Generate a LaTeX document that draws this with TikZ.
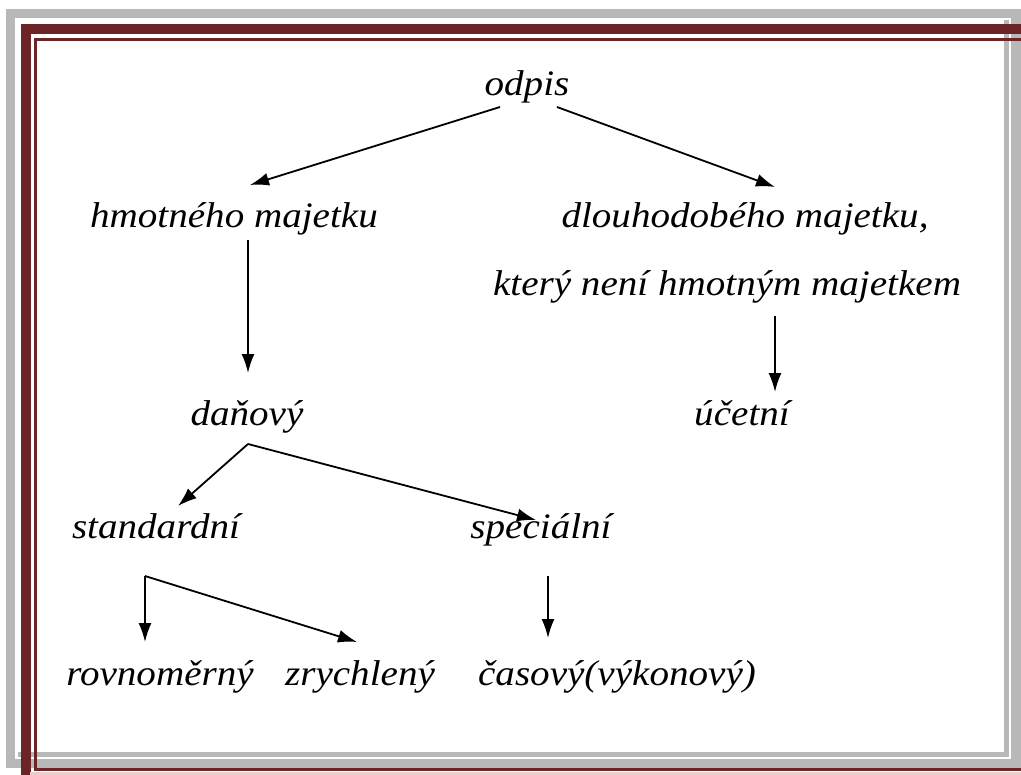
\documentclass[tikz,border=0pt]{standalone}
\usepackage{fontspec}
\setmainfont{Liberation Serif}[ItalicFeatures={FakeStretch=1.09}]
\usetikzlibrary{arrows.meta}
\definecolor{frameRed}{HTML}{6B2527}
\definecolor{frameGray}{HTML}{B8B8B8}
\definecolor{framePink}{HTML}{E8CFCF}
\tikzset{
  term/.style={inner sep=0pt, anchor=base, font=\fontsize{36}{40}\selectfont\itshape},
  link/.style={line width=1.8bp, -{Latex[length=19bp,width=13bp]}}
}
\begin{document}
\begin{tikzpicture}[x=1bp,y=-1bp]
\useasboundingbox (0,0) rectangle (1021,775);
\fill[white] (0,0) rectangle (1021,775);
% shadowed gray border
\draw[frameGray, line width=9.5bp] (10.5,13.5) rectangle (1016,763.5);
\draw[frameGray, line width=5bp] (18,754.5) -- (1006.5,754.5) -- (1006.5,20);
% dark red double rule
\draw[frameRed, line width=10bp] (26,790) -- (26,29) -- (1040,29);
\draw[frameRed, line width=3bp] (1040,39.5) -- (35.5,39.5) -- (35.5,769.5) -- (1040,769.5);
\draw[framePink, line width=2.5bp] (30,773.5) -- (1040,773.5);

% terms
\node[term] (odpis) at (527,96) {odpis};
\node[term] (hmot) at (234,227) {hmotného majetku};
\node[term] (dlouh) at (745,227) {dlouhodobého majetku,};
\node[term] (ktery) at (727,295) {který není hmotným majetkem};
\node[term] (danovy) at (247,425) {daňový};
\node[term] (ucetni) at (742,425) {účetní};
\node[term] (stand) at (156,538) {standardní};
\node[term] (spec) at (541,538) {speciální};
\node[term] (rovn) at (160,685) {rovnoměrný};
\node[term] (zrych) at (360,685) {zrychlený};
\node[term] (casov) at (617,685) {časový(výkonový)};

% connector end points
\coordinate (oL) at (500,107);
\coordinate (oR) at (557,107);
\coordinate (hTop) at (250,185);
\coordinate (dTop) at (775,187);
\coordinate (hBot) at (248,240);
\coordinate (daTop) at (248,373);
\coordinate (kBot) at (775,316);
\coordinate (uTop) at (775,392);
\coordinate (daBot) at (248,444);
\coordinate (sTop) at (178,506);
\coordinate (spTop) at (536,520);
\coordinate (spBot) at (548,576);
\coordinate (cTop) at (548,638);
\coordinate (stBot) at (145,576);
\coordinate (rTop) at (145,642);
\coordinate (zTop) at (357,642);

\draw[link] (oL) -- (hTop);
\draw[link] (oR) -- (dTop);
\draw[link] (hBot) -- (daTop);
\draw[link] (kBot) -- (uTop);
\draw[link] (daBot) -- (sTop);
\draw[link] (daBot) -- (spTop);
\draw[link] (spBot) -- (cTop);
\draw[link] (stBot) -- (rTop);
\draw[link] (stBot) -- (zTop);
\end{tikzpicture}
\end{document}
